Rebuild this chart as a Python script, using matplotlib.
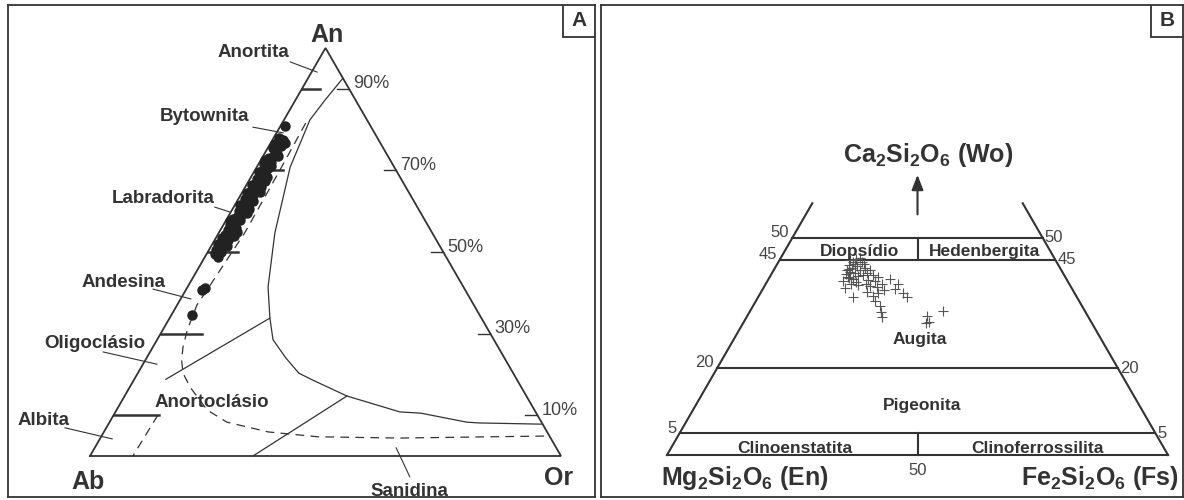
import matplotlib
matplotlib.use('Agg')
import matplotlib.pyplot as plt
from matplotlib.patches import Rectangle
import numpy as np

plt.rcParams['font.family'] = ['Liberation Sans', 'DejaVu Sans']
plt.rcParams['mathtext.fontset'] = 'custom'
plt.rcParams['mathtext.rm'] = 'Liberation Sans:bold'
plt.rcParams['mathtext.it'] = 'Liberation Sans:bold'
plt.rcParams['mathtext.bf'] = 'Liberation Sans:bold'

INK = '#333333'

# ---------------- panel A data: feldspar ternary (An %, Or %) ----------------
plag_an = [81.0, 77.0, 76.0, 75.0, 74.0, 73.0, 72.0, 71.0, 70.0, 69.0, 68.0, 67.0,
           66.0, 65.0, 64.0, 63.0, 62.0, 61.0, 60.0, 59.0, 58.0, 57.0, 56.0, 55.5,
           54.5, 53.5, 52.5, 51.5, 76.5, 72.5, 68.5, 64.5, 60.5, 57.5, 54.0, 51.0,
           48.8, 41.2, 40.7, 34.6,
           78.0, 77.5, 76.8, 75.5, 74.5, 73.5, 72.8, 71.5, 70.5, 69.5, 68.8, 67.5,
           66.5, 65.5, 64.8, 63.5, 62.5, 61.5, 60.8, 59.5, 58.5, 57.8, 56.5, 55.8,
           55.0, 54.2, 53.0, 52.0, 51.8, 50.5, 50.0, 49.5]
plag_or = [0.8, 1.5, 2.5, 1.8, 2.8, 1.5, 2.5, 3.0, 1.8, 2.7, 1.5, 2.4,
           3.2, 1.7, 2.6, 1.4, 2.3, 3.0, 1.6, 2.5, 1.3, 2.2, 3.1, 1.5,
           2.6, 1.2, 2.0, 3.4, 1.0, 1.0, 3.3, 1.0, 3.5, 1.0, 3.5, 2.3,
           2.8, 3.8, 3.5, 4.4,
           1.2, 2.2, 3.0, 1.0, 2.0, 3.2, 1.8, 1.2, 2.6, 1.2, 2.0, 3.3,
           1.2, 2.6, 3.6, 2.0, 3.4, 1.2, 2.2, 3.6, 2.0, 3.0, 1.4, 2.6,
           3.8, 1.6, 2.8, 1.2, 2.6, 1.6, 2.8, 1.8]

# solvus (solid curve)
solvus_an = [92.6, 87.3, 82.4, 70.8, 54.7, 41.4, 33.8, 28.5, 24.0, 20.3, 18.6,
             14.7, 10.8, 10.5, 8.3, 8.1, 7.8]
solvus_or = [7.4, 6.3, 5.5, 7.1, 11.9, 17.1, 21.3, 24.6, 29.6, 34.2, 38.0,
             47.2, 60.4, 65.0, 75.8, 78.6, 92.2]

# plagioclase / alkali feldspar limit (dashed curve)
limit_an = [81.6, 69.4, 54.7, 40.7, 37.0, 30.9, 26.7, 23.5, 20.3, 16.9, 11.3,
            8.3, 5.9, 4.7, 4.4, 4.9]
limit_or = [5.0, 5.3, 5.5, 4.5, 4.2, 5.2, 6.4, 7.7, 9.6, 12.8, 19.2,
            24.9, 34.9, 46.1, 63.6, 94.6]

# albite dashed limit and straight field boundaries
albite_an = [10.0, 0.0]
albite_or = [9.4, 9.1]
tie1_an = [33.8, 18.8]
tie1_or = [21.3, 6.7]
tie2_an = [14.7, 0.0]
tie2_or = [47.2, 34.6]

# plagioclase divisions on Ab-An side (An %, length in Or %)
div_an = [10, 30, 50, 70, 90]
div_len = [9.6, 8.7, 6.4, 5.9, 3.8]
pct_labels = ['10%', '30%', '50%', '70%', '90%']

# ---------------- panel B data: pyroxene quadrilateral (Wo %, Fs %) ----------------
px_wo = [44.9, 44.5, 45.2, 43.8, 43.1, 43.5, 42.2, 41.9, 42.6, 41.0, 40.6, 41.2,
         39.4, 39.9, 44.5, 43.1, 41.5, 42.6, 41.5, 40.3, 40.1, 41.0, 38.9, 38.7,
         39.4, 37.6, 36.6, 37.3, 35.5, 34.3, 32.9, 31.8, 36.4, 40.6, 39.4, 38.2,
         37.3, 36.4, 32.0, 30.6, 30.4, 33.2, 45.4, 42.6, 39.2, 39.4, 38.0,
         44.0, 42.9, 41.6, 40.8, 43.9, 42.0, 40.0, 38.5]
px_fs = [14.1, 14.9, 15.1, 14.4, 15.4, 16.1, 15.4, 16.5, 17.2, 15.6, 16.8, 17.5,
         17.0, 17.8, 16.7, 18.0, 18.4, 19.2, 20.4, 19.9, 21.5, 21.6, 21.0, 22.5,
         23.2, 21.1, 22.8, 23.4, 23.8, 25.3, 26.2, 27.0, 18.9, 24.2, 26.4, 26.4,
         28.4, 29.7, 35.9, 37.0, 36.5, 38.5, 15.8, 14.6, 18.5, 20.0, 24.3,
         15.6, 14.9, 15.0, 16.0, 17.4, 18.9, 15.2, 16.2]

wo_lines = [5, 20, 45, 50]
wo_top = 58

fig = plt.figure(figsize=(11.84, 5.0), dpi=100)
W, H = 1184, 500


def px_rect(x0, y0, x1, y1):
    return [x0 / W, 1 - y1 / H, (x1 - x0) / W, (y1 - y0) / H]


def tern(top, right):
    # top / right component in percent -> x, y (side = 1, height = 1)
    t = np.asarray(top, dtype=float) / 100
    r = np.asarray(right, dtype=float) / 100
    return r + t / 2, t


def panel(rect, xlim, ylim, letter):
    ax = fig.add_axes(rect)
    ax.set_xlim(*xlim)
    ax.set_ylim(*ylim)
    ax.set_xticks([])
    ax.set_yticks([])
    for s in ax.spines.values():
        s.set_linewidth(1.3)
        s.set_color(INK)
    bw = 32 / (rect[2] * W)
    bh = 32 / (rect[3] * H)
    ax.add_patch(Rectangle((1 - bw, 1 - bh), bw, bh, transform=ax.transAxes,
                           fc='white', ec=INK, lw=1.3, zorder=5))
    ax.text(1 - bw / 2, 1 - bh / 2, letter, transform=ax.transAxes, ha='center',
            va='center', fontsize=15, fontweight='bold', color=INK, zorder=6)
    return ax


# ====================== panel A ======================
A_X0, A_SIDE, A_BASE, A_H = 90, 471, 456, 408
axA = panel(px_rect(8, 5, 595, 497),
            ((8 - A_X0) / A_SIDE, (595 - A_X0) / A_SIDE),
            ((A_BASE - 497) / A_H, (A_BASE - 5) / A_H), 'A')

tx, ty = tern([0, 100, 0, 0], [0, 0, 100, 0])
axA.plot(tx, ty, color=INK, lw=1.3, solid_joinstyle='miter')

x, y = tern(solvus_an, solvus_or)
axA.plot(x, y, color=INK, lw=0.9)
x, y = tern(limit_an, limit_or)
axA.plot(x, y, color=INK, lw=0.9, ls=(0, (7, 5)))
x, y = tern(albite_an, albite_or)
axA.plot(x, y, color=INK, lw=0.9, ls=(0, (7, 5)))
for a_, o_ in ((tie1_an, tie1_or), (tie2_an, tie2_or)):
    x, y = tern(a_, o_)
    axA.plot(x, y, color=INK, lw=0.9)

for a, L, lab in zip(div_an, div_len, pct_labels):
    x, y = tern([a, a], [0, L])
    axA.plot(x, y, color=INK, lw=1.8)
    x, y = tern([a, a], [100 - a, 100 - a - 2.6])
    axA.plot(x, y, color=INK, lw=1.0)
    axA.text(x[0] + 0.008, y[0] + 0.012, lab, ha='left', va='center',
             fontsize=13, color='#444444')

x, y = tern(plag_an, plag_or)
axA.plot(x, y, 'o', ms=6.5, color='#222222', mec='#222222', ls='none', zorder=4)

corner_kw = dict(fontsize=18, fontweight='bold', color=INK, ha='center', va='center')
axA.text(0.503, 1.032, 'An', **corner_kw)
axA.text(-0.004, -0.064, 'Ab', **corner_kw)
axA.text(0.994, -0.054, 'Or', **corner_kw)

fields = [
    ('Anortita', (0.346, 0.988), (0.425, 0.966), (0.482, 0.941)),
    ('Bytownita', (0.244, 0.831), (0.346, 0.806), (0.410, 0.792)),
    ('Labradorita', (0.155, 0.630), (0.265, 0.610), (0.297, 0.598)),
    ('Andesina', (0.072, 0.426), (0.134, 0.409), (0.214, 0.385)),
    ('Oligoclásio', (0.011, 0.275), (0.028, 0.255), (0.142, 0.225)),
    ('Albita', (-0.098, 0.088), (-0.053, 0.069), (0.047, 0.042)),
    ('Sanidina', (0.679, -0.088), (0.679, -0.051), (0.650, 0.020)),
]
for name, (lx, ly), p0, p1 in fields:
    axA.text(lx, ly, name, ha='center', va='center', fontsize=13.5,
             fontweight='bold', color=INK)
    axA.plot([p0[0], p1[0]], [p0[1], p1[1]], color=INK, lw=0.8)
axA.text(0.259, 0.130, 'Anortoclásio', ha='center', va='center', fontsize=13.5,
         fontweight='bold', color=INK)

# ====================== panel B ======================
B_X0, B_SIDE, B_BASE, B_H = 667, 501, 455, 434
axB = panel(px_rect(601, 5, 1183, 497),
            ((601 - B_X0) / B_SIDE, (1183 - B_X0) / B_SIDE),
            ((B_BASE - 497) / B_H, (B_BASE - 5) / B_H), 'B')

QL = 1.5
x, y = tern([0, 0], [0, 100])
axB.plot(x, y, color=INK, lw=QL)
x, y = tern([0, wo_top], [0, 0])
axB.plot(x, y, color=INK, lw=QL)
x, y = tern([0, wo_top], [100, 100 - wo_top])
axB.plot(x, y, color=INK, lw=QL)
for w in wo_lines:
    x, y = tern([w, w], [0, 100 - w])
    axB.plot(x, y, color=INK, lw=QL)
    axB.text(x[0] - 0.006, y[0] + 0.012, str(w), ha='right', va='center',
             fontsize=12, color='#444444')
    axB.text(x[1] + 0.004, y[1] + 0.0, str(w), ha='left', va='center',
             fontsize=12, color='#444444')
for lo, hi in ((0, 5), (45, 50)):
    axB.plot([0.5, 0.5], [lo / 100, hi / 100], color=INK, lw=QL)
axB.text(0.5, -0.035, '50', ha='center', va='center', fontsize=12, color='#444444')

x, y = tern(px_wo, px_fs)
axB.plot(x, y, '+', ms=7, mew=0.8, color='#555555', ls='none')

axB.annotate('', xy=(0.5, 0.652), xytext=(0.5, 0.548),
             arrowprops=dict(arrowstyle='-|>,head_length=0.9,head_width=0.35',
                             color=INK, lw=1.5))
lab_kw = dict(fontsize=18, fontweight='bold', color=INK, ha='center', va='center')
axB.text(0.521, 0.691, r'Ca$_2$Si$_2$O$_6$ (Wo)', **lab_kw)
axB.text(0.156, -0.053, r'Mg$_2$Si$_2$O$_6$ (En)', **lab_kw)
axB.text(0.864, -0.053, r'Fe$_2$Si$_2$O$_6$ (Fs)', **lab_kw)

regions = [('Diopsídio', 0.385, 0.470), ('Hedenbergita', 0.633, 0.468),
           ('Augita', 0.505, 0.265), ('Pigeonita', 0.509, 0.113),
           ('Clinoenstatita', 0.255, 0.016), ('Clinoferrossilita', 0.740, 0.016)]
for name, lx, ly in regions:
    axB.text(lx, ly, name, ha='center', va='center', fontsize=12.5,
             fontweight='bold', color=INK)

fig.savefig('out.png', dpi=100)
